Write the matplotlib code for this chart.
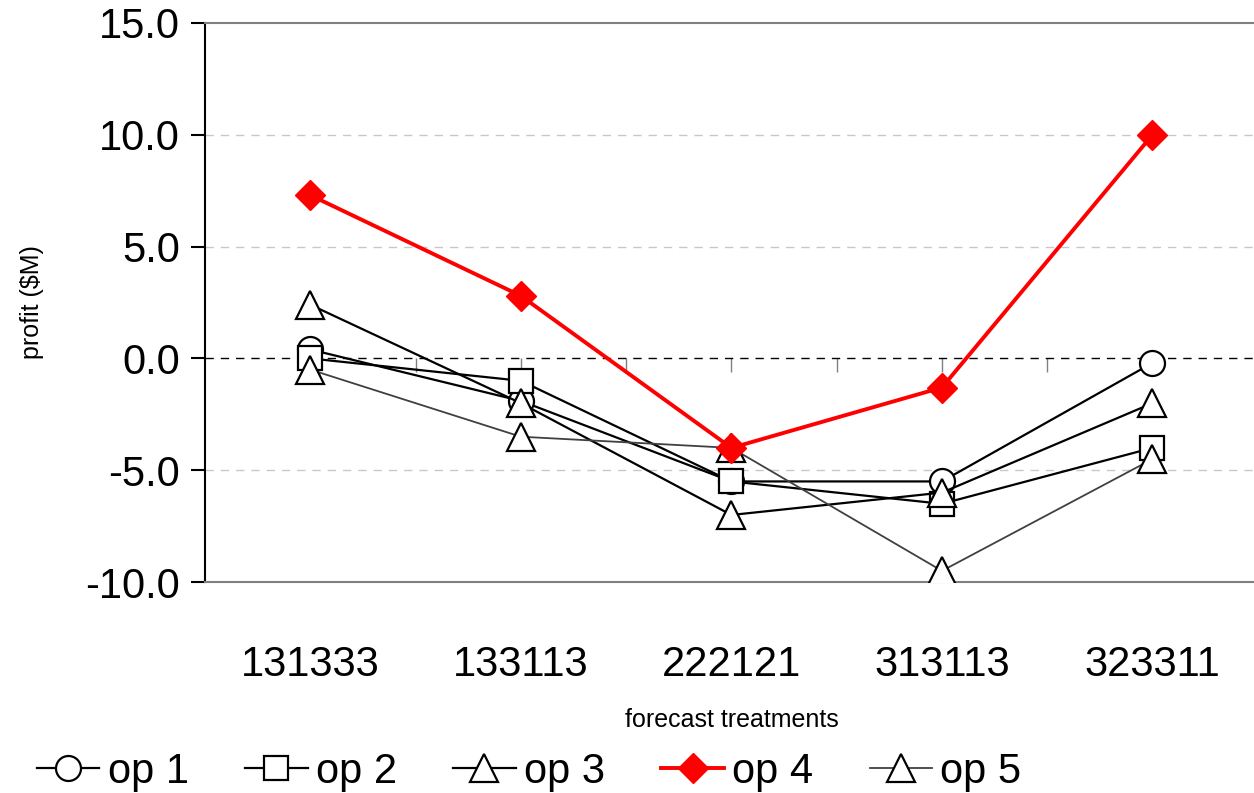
import matplotlib
matplotlib.use("Agg")
import numpy as np
import matplotlib.pyplot as plt
from matplotlib.ticker import FixedLocator

# forecast treatments on the x axis
treatments = ["131333", "133113", "222121", "313113", "323311"]

# profit ($M) per option
op1 = [0.4, -1.9, -5.5, -5.5, -0.2]
op2 = [0.0, -1.0, -5.5, -6.5, -4.0]
op3 = [2.4, -2.0, -7.0, -6.0, -2.0]
op4 = [7.3, 2.8, -4.0, -1.3, 10.0]
op5 = [-0.5, -3.5, -4.0, -9.5, -4.5]

y_ticks = [-10, -5, 0, 5, 10, 15]

plt.rcParams['font.family'] = ['Liberation Sans', 'DejaVu Sans']

fig = plt.figure(figsize=(12.54, 7.93), dpi=100)
ax = fig.add_axes([0.1635, 0.266, 0.8395, 0.705])

x = np.arange(len(treatments))

# light dashed gridlines, black dashed zero line
for yv in y_ticks:
    if yv in (-10, 15):
        continue
    if yv == 0:
        ax.axhline(yv, color='black', linestyle=(0, (6, 5)), linewidth=1.0, zorder=1)
    else:
        ax.axhline(yv, color='#c8c8c8', linestyle=(0, (6, 5)), linewidth=1.0, zorder=1)

marker_kw = dict(markerfacecolor='white', markeredgecolor='black', markeredgewidth=1.6)
ax.plot(x, op1, color='black', linewidth=1.6, marker='o', markersize=18, label='op 1', zorder=3, **marker_kw)
ax.plot(x, op2, color='black', linewidth=1.6, marker='s', markersize=17, label='op 2', zorder=3, **marker_kw)
ax.plot(x, op3, color='black', linewidth=1.6, marker='^', markersize=20.5, label='op 3', zorder=3, **marker_kw)
ax.plot(x, op4, color='#ff0000', linewidth=2.8, marker='D', markersize=15,
        markerfacecolor='#ff0000', markeredgecolor='#ff0000', label='op 4', zorder=5)
ax.plot(x, op5, color='#404040', linewidth=1.3, marker='^', markersize=20.5, label='op 5', zorder=3, **marker_kw)

ax.set_xlim(-0.5, len(treatments) - 0.5)
ax.set_ylim(-10, 15)
ax.set_yticks(y_ticks)
ax.set_yticklabels([f"{v:.1f}" for v in y_ticks], fontsize=30)
ax.tick_params(axis='y', direction='out', length=10, width=1.5, color='black', pad=8)

ax.set_xticks(x)
ax.set_xticklabels(treatments, fontsize=30)
ax.tick_params(axis='x', length=0, pad=45)

ax.spines['left'].set_color('black')
ax.spines['left'].set_linewidth(1.5)
ax.spines['top'].set_color('#808080')
ax.spines['top'].set_linewidth(1.5)
ax.spines['bottom'].set_color('#808080')
ax.spines['bottom'].set_linewidth(1.5)
ax.spines['right'].set_visible(False)

# category ticks on the zero line (axis crosses at 0)
sec = ax.secondary_xaxis(10 / 25)
sec.spines['bottom'].set_visible(False)
sec.set_xticks(x)
sec.xaxis.set_minor_locator(FixedLocator(x[:-1] + 0.5))
sec.tick_params(axis='x', which='both', direction='out', length=10, width=1.0,
                color='#808080', labelbottom=False)

ax.set_ylabel("profit ($M)", fontsize=18, labelpad=30)
ax.set_xlabel("forecast treatments", fontsize=18, labelpad=17)

fig.legend(loc='center', bbox_to_anchor=(0.422, 0.027), ncol=5, frameon=False,
           fontsize=30, handlelength=1.5, handletextpad=0.2, columnspacing=1.35)

fig.savefig("out.png", dpi=100)
